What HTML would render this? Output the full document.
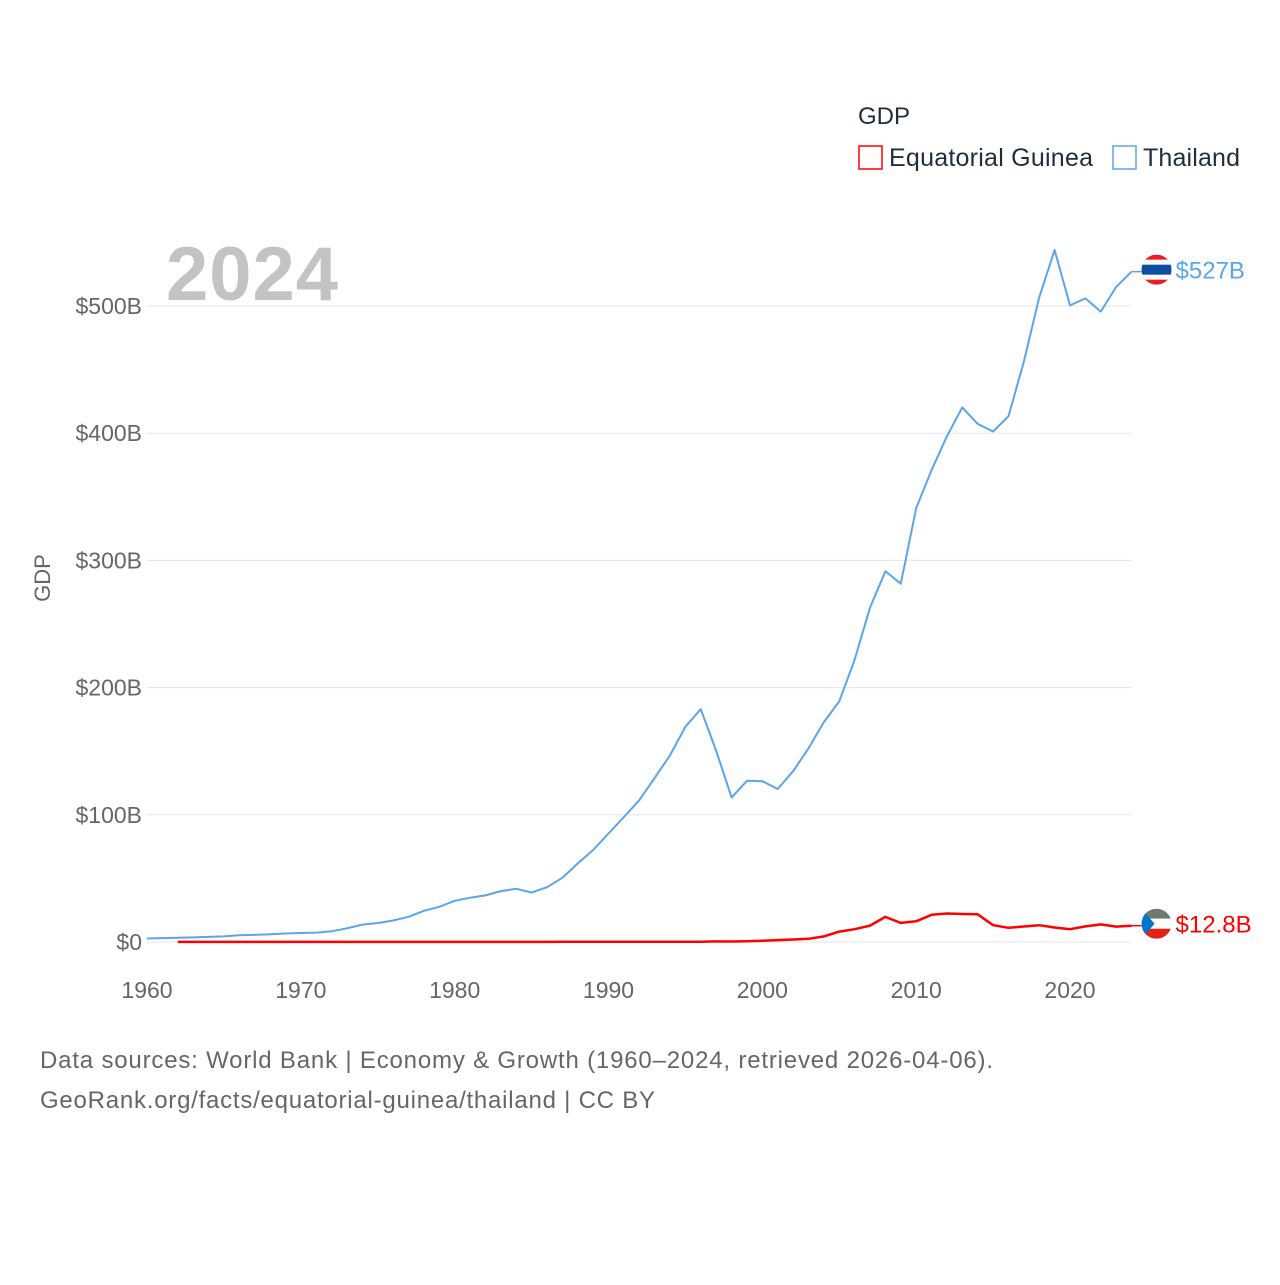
<!DOCTYPE html>
<html><head><meta charset="utf-8"><style>
body{margin:0;background:#fff;font-family:"Liberation Sans",sans-serif}
svg text{font-family:"Liberation Sans",sans-serif}
</style></head><body>
<svg id="chart" width="1280" height="1280" viewBox="0 0 1280 1280" xmlns="http://www.w3.org/2000/svg">
<rect width="1280" height="1280" fill="#fff"/>
<text x="858" y="124" font-size="24" fill="#1f2d3d">GDP</text>
<g>
<rect x="859" y="146" width="23" height="23" fill="none" stroke="#ff0000" stroke-width="1.5"/>
<text x="889" y="166" font-size="25" fill="#1f2d3d" textLength="204">Equatorial Guinea</text></g>
<g>
<rect x="1113" y="146" width="23" height="23" fill="none" stroke="#5ba5ec" stroke-width="1.5"/>
<text x="1143" y="166" font-size="25" fill="#1f2d3d" textLength="97">Thailand</text></g>
<text x="166" y="300" font-size="76" font-weight="bold" fill="#c4c2c4" textLength="172">2024</text>
<text transform="translate(50,578) rotate(-90)" text-anchor="middle" font-size="22" fill="#666">GDP</text>
<g id="grid"></g><g id="yticks"></g><g id="xticks"></g><g id="series"></g>
<text x="40" y="1068" font-size="24" fill="#666" textLength="953">Data sources: World Bank | Economy &amp; Growth (1960–2024, retrieved 2026-04-06).</text>
<text x="40" y="1108" font-size="24" fill="#666" textLength="615">GeoRank.org/facts/equatorial-guinea/thailand | CC BY</text>
</svg>
<script>
const years=[];for(let y=1960;y<=2024;y++)years.push(y);
const thailand=[2.76,3.03,3.3,3.6,4.0,4.4,5.3,5.6,6.1,6.7,7.1,7.4,8.4,10.8,13.7,14.9,16.9,19.8,24.5,27.7,32.4,34.8,36.6,40.0,41.8,38.9,43.1,50.5,61.7,72.3,85.3,98.2,111.5,128.9,146.7,169.3,183.0,150.2,113.7,126.7,126.4,120.3,134.3,152.3,172.9,189.3,221.8,262.9,291.4,281.7,341.1,370.8,397.6,420.3,407.3,401.3,413.4,456.4,506.8,544,500.5,506.0,495.6,515,527];
const eqGuinea=[null,null,0.07,0.07,0.08,0.08,0.09,0.09,0.09,0.1,0.1,0.1,0.1,0.1,0.1,0.1,0.1,0.1,0.1,0.1,0.1,0.1,0.1,0.1,0.1,0.1,0.1,0.12,0.12,0.12,0.13,0.13,0.14,0.14,0.14,0.14,0.23,0.5,0.37,0.62,1.05,1.46,2.0,2.5,4.4,8.2,10.1,12.9,19.7,15.0,16.3,21.4,22.4,22.0,21.8,13.2,11.2,12.2,13.2,11.4,10.1,12.3,13.8,12.1,12.8];
const yTicks=[0,100,200,300,400,500];
const yTickLabels=["$0","$100B","$200B","$300B","$400B","$500B"];
const xTicks=[1960,1970,1980,1990,2000,2010,2020];
const NS="http://www.w3.org/2000/svg";
const X=y=>147+(y-1960)*(1070-147)/60;
const Y=v=>942-v*(942-306)/500;
function mk(t,a,p){const e=document.createElementNS(NS,t);for(const k in a)e.setAttribute(k,a[k]);p.appendChild(e);return e;}
const grid=document.getElementById('grid'),yt=document.getElementById('yticks'),xt=document.getElementById('xticks'),ser=document.getElementById('series');
yTicks.forEach((v,i)=>{
 const l=mk('line',{x1:147,x2:1131,y1:Y(v),y2:Y(v),stroke:'#e6e6e6','stroke-width':1},grid);
 
 
 const t=mk('text',{x:142,y:Y(v)+8,'text-anchor':'end','font-size':23,fill:'#666'},yt);
 t.textContent=yTickLabels[i];
 
 
});
xTicks.forEach(v=>{
 const t=mk('text',{x:X(v),y:998,'text-anchor':'middle','font-size':23,fill:'#666'},xt);
 t.textContent=v;
 
 
});
function path(vals){let d='',m=true;vals.forEach((v,i)=>{if(v==null){m=true;return;}d+=(m?'M':'L')+X(years[i]).toFixed(1)+','+Y(v).toFixed(1);m=false;});return d;}
const pt=mk('path',{d:path(thailand),fill:'none',stroke:'#5ba5ec','stroke-width':2,'stroke-linejoin':'round'},ser);


const pe=mk('path',{d:path(eqGuinea),fill:'none',stroke:'#ff0000','stroke-width':2.5,'stroke-linejoin':'round'},ser);


function endLabel(vals,color,name,lbl,flag,dy){
 const v=vals[vals.length-1],x=X(2024),y=Y(v);
 const l=mk('line',{x1:x,x2:x+10,y1:y,y2:y,stroke:color,'stroke-width':1.5},ser);
 
 
 const g=mk('g',{},ser);
 
 
 const cx=x+25,r=15,fy=y+dy;
 const cp=mk('clipPath',{id:'c'+name},g);mk('circle',{cx:cx,cy:fy,r:r},cp);
 const fg=mk('g',{'clip-path':'url(#c'+name+')'},g);
 flag(fg,cx,fy,r);
 const t=mk('text',{x:cx+19,y:fy+9,'font-size':24,fill:color},ser);
 t.textContent=lbl;
 
 
}
endLabel(thailand,'#5ba5ec','thailand','$527B',(g,cx,cy,r)=>{
 const h=2*r/6;
 mk('rect',{x:cx-r,y:cy-r,width:2*r,height:2*r,fill:'#ed1c24'},g);
 mk('rect',{x:cx-r,y:cy-r+h,width:2*r,height:4*h,fill:'#fff'},g);
 mk('rect',{x:cx-r,y:cy-h,width:2*r,height:2*h,fill:'#0b4ea2'},g);
},-2);
endLabel(eqGuinea,'#ff0000','equatorial-guinea','$12.8B',(g,cx,cy,r)=>{
 mk('rect',{x:cx-r,y:cy-r,width:2*r,height:2*r/3,fill:'#6d7a6d'},g);
 mk('rect',{x:cx-r,y:cy-r/3,width:2*r,height:2*r/3,fill:'#fff'},g);
 mk('rect',{x:cx-r,y:cy+r/3,width:2*r,height:2*r/3,fill:'#e32118'},g);
 mk('polygon',{points:(cx-r)+','+(cy-r)+' '+(cx-2)+','+cy+' '+(cx-r)+','+(cy+r),fill:'#0073ce'},g);
},-2);
</script>
</body></html>
